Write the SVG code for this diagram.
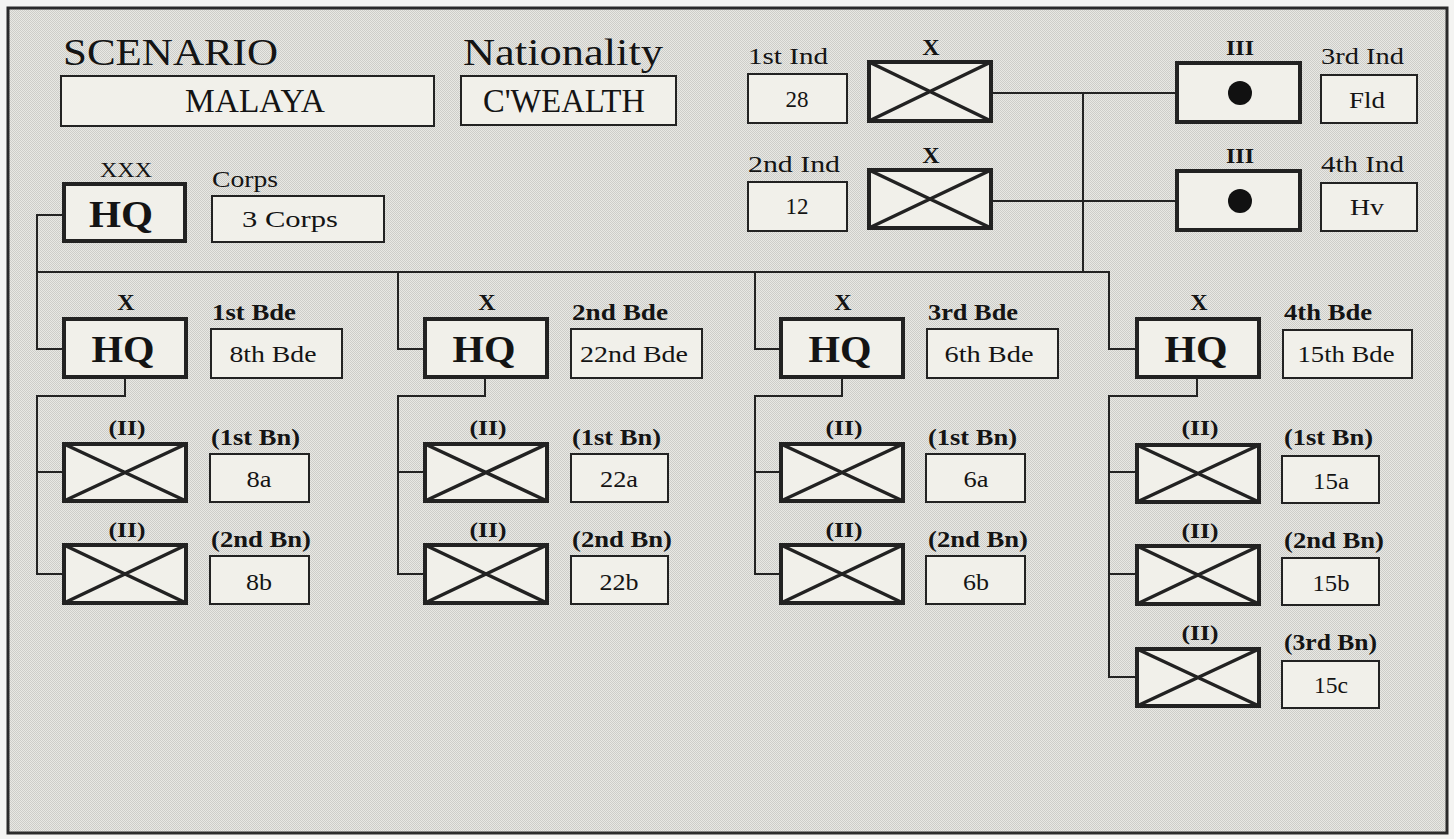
<svg xmlns="http://www.w3.org/2000/svg" width="1454" height="839" viewBox="0 0 1454 839">
<defs>
<pattern id="dither" width="2" height="2" patternUnits="userSpaceOnUse">
<rect width="2" height="2" fill="#e8e8e4"/>
<rect width="1" height="1" fill="#cdcdc9"/>
<rect x="1" y="1" width="1" height="1" fill="#cdcdc9"/>
</pattern>
<style>
.t{font-family:"Liberation Serif","Times New Roman",serif;fill:#141414}
.b{font-weight:bold}
.c{text-anchor:middle}
.title{font-size:38px}
.big{font-size:34px}
.lab{font-size:24px}
.blab{font-size:23px;font-weight:bold}
.bt{font-size:23px}
.mk{font-size:22px;font-weight:bold}
.xm{font-size:24px;font-weight:bold}
.hq{font-size:37px;font-weight:bold}
.box{fill:#f1f0ea;stroke:#222;stroke-width:2}
.unit{fill:#f1f0ea;stroke:#222;stroke-width:4}
.diag{stroke:#222;stroke-width:3.5;fill:none}
.conn{fill:none;stroke:#222;stroke-width:2}
</style>
</defs>
<rect x="0" y="0" width="1454" height="839" fill="#f4f4f2"/>
<rect x="8" y="8" width="1439" height="825" fill="url(#dither)" stroke="#2a2a2a" stroke-width="3"/>

<g id="connectors">
<path class="conn" d="M62 215 H37 V349 H62"/>
<path class="conn" d="M37 272 H1109 V349 H1135"/>
<path class="conn" d="M1083 272 V93"/>
<path class="conn" d="M993 93 H1175"/>
<path class="conn" d="M993 201 H1175"/>
<path class="conn" d="M398 272 V349 H423"/>
<path class="conn" d="M755 272 V349 H779"/>
<path class="conn" d="M125 379 V396 H37 V574 H62 M37 472 H62"/>
<path class="conn" d="M485 379 V396 H398 V574 H423 M398 472 H423"/>
<path class="conn" d="M842 379 V396 H755 V574 H779 M755 472 H779"/>
<path class="conn" d="M1197 379 V396 H1109 V677 H1135 M1109 472 H1135 M1109 574 H1135"/>
</g>

<g id="scenario">
<text class="t title" x="63" y="65" textLength="215" lengthAdjust="spacingAndGlyphs">SCENARIO</text>
<rect class="box" x="61" y="76" width="373" height="50"/>
<text class="t big c" x="255" y="112" textLength="140" lengthAdjust="spacingAndGlyphs">MALAYA</text>
</g>
<g id="nationality">
<text class="t title" x="463" y="65" textLength="200" lengthAdjust="spacingAndGlyphs">Nationality</text>
<rect class="box" x="461" y="76" width="215" height="49"/>
<text class="t big c" x="564" y="112" textLength="162" lengthAdjust="spacingAndGlyphs">C'WEALTH</text>
</g>

<g id="ind1">
<text class="t lab" x="748" y="64" textLength="80" lengthAdjust="spacingAndGlyphs">1st Ind</text>
<rect class="box" x="748" y="74" width="99" height="49"/>
<text class="t bt c" x="797" y="107">28</text>
<text class="t xm c" x="931" y="55">X</text>
<rect class="unit" x="869" y="62" width="122" height="59"/>
<path class="diag" d="M869 62 L991 121 M991 62 L869 121"/>
</g>
<g id="ind2">
<text class="t lab" x="748" y="172" textLength="92" lengthAdjust="spacingAndGlyphs">2nd Ind</text>
<rect class="box" x="748" y="182" width="99" height="49"/>
<text class="t bt c" x="797" y="214">12</text>
<text class="t xm c" x="931" y="163">X</text>
<rect class="unit" x="869" y="170" width="122" height="58"/>
<path class="diag" d="M869 170 L991 228 M991 170 L869 228"/>
</g>
<g id="ind3">
<text class="t mk c" x="1240" y="55" textLength="28" lengthAdjust="spacingAndGlyphs">III</text>
<rect class="unit" x="1177" y="63" width="123" height="59"/>
<circle cx="1240" cy="93" r="12" fill="#111"/>
<text class="t lab" x="1321" y="64" textLength="83" lengthAdjust="spacingAndGlyphs">3rd Ind</text>
<rect class="box" x="1321" y="75" width="96" height="48"/>
<text class="t bt c" x="1367" y="108" textLength="36" lengthAdjust="spacingAndGlyphs">Fld</text>
</g>
<g id="ind4">
<text class="t mk c" x="1240" y="163" textLength="28" lengthAdjust="spacingAndGlyphs">III</text>
<rect class="unit" x="1177" y="171" width="123" height="59"/>
<circle cx="1240" cy="201" r="12" fill="#111"/>
<text class="t lab" x="1321" y="172" textLength="83" lengthAdjust="spacingAndGlyphs">4th Ind</text>
<rect class="box" x="1321" y="183" width="96" height="48"/>
<text class="t bt c" x="1367" y="215" textLength="34" lengthAdjust="spacingAndGlyphs">Hv</text>
</g>

<g id="corps">
<text class="t c" x="126" y="177" style="font-size:22px" textLength="52" lengthAdjust="spacingAndGlyphs">XXX</text>
<rect class="unit" x="64" y="184" width="121" height="57"/>
<text class="t hq c" x="121" y="227" textLength="64" lengthAdjust="spacingAndGlyphs">HQ</text>
<text class="t lab" x="212" y="187" textLength="66" lengthAdjust="spacingAndGlyphs">Corps</text>
<rect class="box" x="212" y="196" width="172" height="46"/>
<text class="t bt c" x="290" y="227" textLength="96" lengthAdjust="spacingAndGlyphs">3 Corps</text>
</g>

<g id="bde1">
<text class="t xm c" x="126" y="310">X</text>
<rect class="unit" x="64" y="319" width="122" height="58"/>
<text class="t hq c" x="123" y="362" textLength="63" lengthAdjust="spacingAndGlyphs">HQ</text>
<text class="t blab" x="212" y="320" textLength="84" lengthAdjust="spacingAndGlyphs">1st Bde</text>
<rect class="box" x="211" y="329" width="131" height="49"/>
<text class="t bt c" x="273" y="362" textLength="87" lengthAdjust="spacingAndGlyphs">8th Bde</text>
</g>
<g id="bde1-bn1">
<text class="t mk c" x="127" y="435" textLength="37" lengthAdjust="spacingAndGlyphs">(II)</text>
<rect class="unit" x="64" y="444" width="122" height="57"/>
<path class="diag" d="M64 444 L186 501 M186 444 L64 501"/>
<text class="t blab" x="211" y="445" textLength="89" lengthAdjust="spacingAndGlyphs">(1st Bn)</text>
<rect class="box" x="210" y="454" width="99" height="48"/>
<text class="t bt c" x="259" y="487" textLength="25" lengthAdjust="spacingAndGlyphs">8a</text>
</g>
<g id="bde1-bn2">
<text class="t mk c" x="127" y="537" textLength="37" lengthAdjust="spacingAndGlyphs">(II)</text>
<rect class="unit" x="64" y="545" width="122" height="58"/>
<path class="diag" d="M64 545 L186 603 M186 545 L64 603"/>
<text class="t blab" x="211" y="547" textLength="100" lengthAdjust="spacingAndGlyphs">(2nd Bn)</text>
<rect class="box" x="210" y="556" width="99" height="48"/>
<text class="t bt c" x="259" y="590" textLength="26" lengthAdjust="spacingAndGlyphs">8b</text>
</g>

<g id="bde2">
<text class="t xm c" x="487" y="310">X</text>
<rect class="unit" x="425" y="319" width="122" height="58"/>
<text class="t hq c" x="484" y="362" textLength="63" lengthAdjust="spacingAndGlyphs">HQ</text>
<text class="t blab" x="572" y="320" textLength="96" lengthAdjust="spacingAndGlyphs">2nd Bde</text>
<rect class="box" x="571" y="329" width="131" height="49"/>
<text class="t bt c" x="634" y="362" textLength="108" lengthAdjust="spacingAndGlyphs">22nd Bde</text>
</g>
<g id="bde2-bn1">
<text class="t mk c" x="488" y="435" textLength="37" lengthAdjust="spacingAndGlyphs">(II)</text>
<rect class="unit" x="425" y="444" width="122" height="57"/>
<path class="diag" d="M425 444 L547 501 M547 444 L425 501"/>
<text class="t blab" x="572" y="445" textLength="89" lengthAdjust="spacingAndGlyphs">(1st Bn)</text>
<rect class="box" x="571" y="454" width="97" height="48"/>
<text class="t bt c" x="619" y="487" textLength="38" lengthAdjust="spacingAndGlyphs">22a</text>
</g>
<g id="bde2-bn2">
<text class="t mk c" x="488" y="537" textLength="37" lengthAdjust="spacingAndGlyphs">(II)</text>
<rect class="unit" x="425" y="545" width="122" height="58"/>
<path class="diag" d="M425 545 L547 603 M547 545 L425 603"/>
<text class="t blab" x="572" y="547" textLength="100" lengthAdjust="spacingAndGlyphs">(2nd Bn)</text>
<rect class="box" x="571" y="556" width="97" height="48"/>
<text class="t bt c" x="619" y="590" textLength="39" lengthAdjust="spacingAndGlyphs">22b</text>
</g>

<g id="bde3">
<text class="t xm c" x="843" y="310">X</text>
<rect class="unit" x="781" y="319" width="122" height="58"/>
<text class="t hq c" x="840" y="362" textLength="63" lengthAdjust="spacingAndGlyphs">HQ</text>
<text class="t blab" x="928" y="320" textLength="90" lengthAdjust="spacingAndGlyphs">3rd Bde</text>
<rect class="box" x="927" y="329" width="131" height="49"/>
<text class="t bt c" x="989" y="362" textLength="89" lengthAdjust="spacingAndGlyphs">6th Bde</text>
</g>
<g id="bde3-bn1">
<text class="t mk c" x="844" y="435" textLength="37" lengthAdjust="spacingAndGlyphs">(II)</text>
<rect class="unit" x="781" y="444" width="122" height="57"/>
<path class="diag" d="M781 444 L903 501 M903 444 L781 501"/>
<text class="t blab" x="928" y="445" textLength="89" lengthAdjust="spacingAndGlyphs">(1st Bn)</text>
<rect class="box" x="926" y="454" width="99" height="48"/>
<text class="t bt c" x="976" y="487" textLength="25" lengthAdjust="spacingAndGlyphs">6a</text>
</g>
<g id="bde3-bn2">
<text class="t mk c" x="844" y="537" textLength="37" lengthAdjust="spacingAndGlyphs">(II)</text>
<rect class="unit" x="781" y="545" width="122" height="58"/>
<path class="diag" d="M781 545 L903 603 M903 545 L781 603"/>
<text class="t blab" x="928" y="547" textLength="100" lengthAdjust="spacingAndGlyphs">(2nd Bn)</text>
<rect class="box" x="926" y="556" width="99" height="48"/>
<text class="t bt c" x="976" y="590" textLength="26" lengthAdjust="spacingAndGlyphs">6b</text>
</g>

<g id="bde4">
<text class="t xm c" x="1199" y="310">X</text>
<rect class="unit" x="1137" y="319" width="122" height="58"/>
<text class="t hq c" x="1196" y="362" textLength="63" lengthAdjust="spacingAndGlyphs">HQ</text>
<text class="t blab" x="1284" y="320" textLength="88" lengthAdjust="spacingAndGlyphs">4th Bde</text>
<rect class="box" x="1283" y="330" width="129" height="48"/>
<text class="t bt c" x="1346" y="362" textLength="97" lengthAdjust="spacingAndGlyphs">15th Bde</text>
</g>
<g id="bde4-bn1">
<text class="t mk c" x="1200" y="435" textLength="37" lengthAdjust="spacingAndGlyphs">(II)</text>
<rect class="unit" x="1137" y="445" width="122" height="57"/>
<path class="diag" d="M1137 445 L1259 502 M1259 445 L1137 502"/>
<text class="t blab" x="1284" y="445" textLength="89" lengthAdjust="spacingAndGlyphs">(1st Bn)</text>
<rect class="box" x="1282" y="456" width="97" height="47"/>
<text class="t bt c" x="1331" y="489" textLength="36" lengthAdjust="spacingAndGlyphs">15a</text>
</g>
<g id="bde4-bn2">
<text class="t mk c" x="1200" y="538" textLength="37" lengthAdjust="spacingAndGlyphs">(II)</text>
<rect class="unit" x="1137" y="546" width="122" height="58"/>
<path class="diag" d="M1137 546 L1259 604 M1259 546 L1137 604"/>
<text class="t blab" x="1284" y="548" textLength="100" lengthAdjust="spacingAndGlyphs">(2nd Bn)</text>
<rect class="box" x="1282" y="558" width="97" height="47"/>
<text class="t bt c" x="1331" y="591" textLength="37" lengthAdjust="spacingAndGlyphs">15b</text>
</g>
<g id="bde4-bn3">
<text class="t mk c" x="1200" y="640" textLength="37" lengthAdjust="spacingAndGlyphs">(II)</text>
<rect class="unit" x="1137" y="649" width="122" height="57"/>
<path class="diag" d="M1137 649 L1259 706 M1259 649 L1137 706"/>
<text class="t blab" x="1284" y="650" textLength="93" lengthAdjust="spacingAndGlyphs">(3rd Bn)</text>
<rect class="box" x="1282" y="661" width="97" height="47"/>
<text class="t bt c" x="1331" y="693" textLength="34" lengthAdjust="spacingAndGlyphs">15c</text>
</g>
</svg>
